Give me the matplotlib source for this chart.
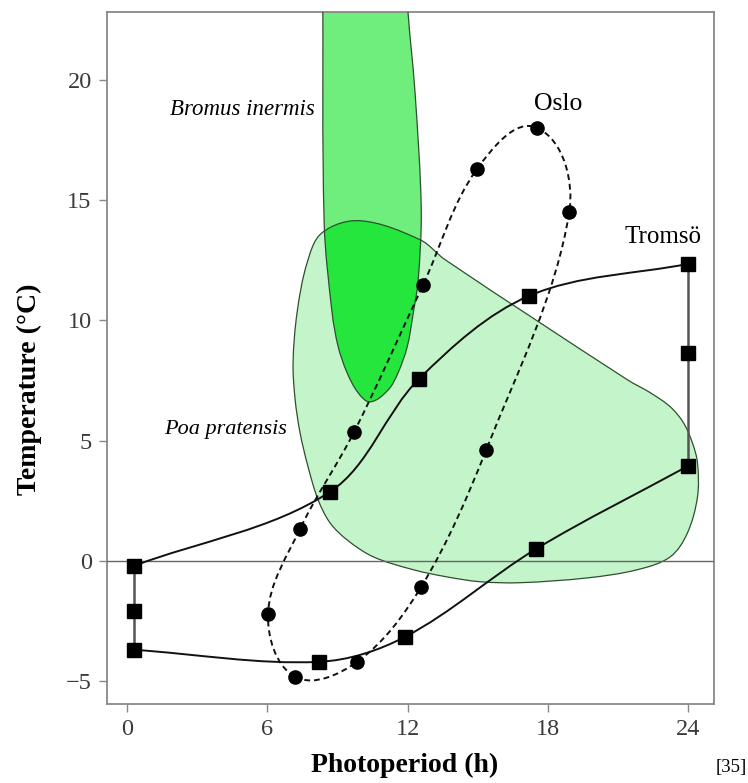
import numpy as np
import matplotlib
matplotlib.use('Agg')
import matplotlib.pyplot as plt
from matplotlib.path import Path
from matplotlib.patches import PathPatch

plt.rcParams['font.family'] = ['Liberation Serif', 'DejaVu Serif']

# Tromso monthly means (Jan..Dec): photoperiod (h), temperature (C)
tromso_x = [0.30, 8.21, 11.89, 17.50, 24.0, 24.0, 24.0, 17.20, 12.49, 8.68, 0.30, 0.30]
tromso_y = [-3.70, -4.20, -3.16, 0.50, 3.95, 8.65, 12.35, 11.02, 7.57, 2.87, -0.21, -2.08]

# Oslo (circles visible in the figure, in seasonal order)
oslo_x = [7.19, 9.84, 12.58, 15.36, 18.91, 17.54, 14.97, 12.66, 9.71, 7.40, 6.03]
oslo_y = [-4.82, -4.20, -1.08, 4.62, 14.51, 18.00, 16.30, 11.48, 5.36, 1.33, -2.20]

# outline of the Bromus inermis region (runs off the top of the plot)
bromus_x = [8.37, 8.43, 8.77, 9.03, 9.41, 9.88, 10.40, 11.17, 11.59, 11.98, 12.24,
            12.45, 12.58, 12.32, 11.97, 11.9, 8.35]
bromus_y = [24.5, 14.05, 10.31, 8.90, 7.82, 6.99, 6.61, 7.11, 7.82, 8.90, 10.31,
            11.68, 14.6, 19.4, 23.5, 28.0, 28.0]

# outline of the Poa pratensis region
poa_x = [9.97, 12.53, 13.60, 21.39, 22.37, 23.23, 23.79, 24.17, 24.39, 24.39, 23.96,
         23.23, 21.82, 19.68, 16.81, 15.10, 13.69, 12.24, 10.52, 9.41, 8.68, 8.17,
         7.74, 7.40, 7.19, 7.10, 7.27, 7.70, 8.34]
poa_y = [14.14, 13.35, 12.52, 7.53, 6.99, 6.40, 5.74, 4.91, 4.07, 2.66, 1.16,
         0.17, -0.37, -0.71, -0.91, -0.87, -0.67, -0.37, 0.17, 0.87, 1.58, 2.54,
         3.91, 5.32, 6.69, 8.23, 10.31, 12.39, 13.64]


def smooth_path(xs, ys, closed=False):
    # smooth curve through the points: cubic Bezier segments with
    # tangents along the neighbour chords, handles a third of each segment
    p = np.column_stack([xs, ys]).astype(float)
    n = len(p)
    tang = np.zeros_like(p)
    for i in range(n):
        if closed:
            d = p[(i + 1) % n] - p[i - 1]
        elif i == 0:
            d = p[1] - p[0]
        elif i == n - 1:
            d = p[-1] - p[-2]
        else:
            d = p[i + 1] - p[i - 1]
        tang[i] = d / np.hypot(*d)
    nseg = n if closed else n - 1
    verts = [p[0]]
    codes = [Path.MOVETO]
    for i in range(nseg):
        a, b = p[i], p[(i + 1) % n]
        L = np.hypot(*(b - a)) / 3.0
        verts += [a + tang[i] * L, b - tang[(i + 1) % n] * L, b]
        codes += [Path.CURVE4] * 3
    if closed:
        verts.append(p[0])
        codes.append(Path.CLOSEPOLY)
    return Path(verts, codes)


fig = plt.figure(figsize=(7.48, 7.83), dpi=100)
ax = fig.add_axes([0.143, 0.101, 0.812, 0.884])

edge = '#2f4f2f'
poa_path = smooth_path(poa_x, poa_y, closed=True)
bromus_path = smooth_path(bromus_x, bromus_y, closed=True)

poa_fill = PathPatch(poa_path, facecolor='#c4f5ca', edgecolor='none', zorder=1)
ax.add_patch(poa_fill)
ax.add_patch(PathPatch(bromus_path, facecolor='#6fee7e', edgecolor='none', zorder=1.5))
overlap = PathPatch(bromus_path, facecolor='#24e63d', edgecolor='none', zorder=2)
ax.add_patch(overlap)
overlap.set_clip_path(poa_fill)
ax.add_patch(PathPatch(poa_path, facecolor='none', edgecolor=edge, lw=0.9, zorder=3))
ax.add_patch(PathPatch(bromus_path, facecolor='none', edgecolor=edge, lw=0.9, zorder=3))

ax.axhline(0, color='#666666', lw=1.0, zorder=3)

# Oslo: closed dashed loop
ax.add_patch(PathPatch(smooth_path(oslo_x, oslo_y, closed=True), facecolor='none',
                       edgecolor='#111111', lw=1.4, ls=(0, (3, 2)), zorder=4))
ax.plot(oslo_x, oslo_y, 'o', color='black', ms=9.5, zorder=6)

# Tromso: curved parts plus vertical runs at constant photoperiod
rise = [0, 1, 2, 3, 4]
fall = [6, 7, 8, 9, 10]
for idx in (rise, fall):
    ax.add_patch(PathPatch(smooth_path([tromso_x[i] for i in idx], [tromso_y[i] for i in idx]),
                           facecolor='none', edgecolor='#111111', lw=1.4, zorder=5))
for idx in ([4, 5, 6], [10, 11, 0]):
    ax.plot([tromso_x[i] for i in idx], [tromso_y[i] for i in idx], color='#555555', lw=1.8, zorder=5)
ax.plot(tromso_x, tromso_y, 's', color='black', ms=10, zorder=6)

ax.text(8.04, 18.75, 'Bromus inermis', style='italic', fontsize=16.5, ha='right', va='center', zorder=7)
ax.text(6.84, 5.45, 'Poa pratensis', style='italic', fontsize=16, ha='right', va='center', zorder=7)
ax.text(18.44, 19.0, 'Oslo', fontsize=18.5, ha='center', va='center', zorder=7)
ax.text(22.93, 13.47, 'Tromsö', fontsize=18, ha='center', va='center', zorder=7)

ax.set_xlim(-0.856, 25.11)
ax.set_ylim(-5.95, 22.83)
ax.set_xticks([0, 6, 12, 18, 24])
ax.set_yticks([-5, 0, 5, 10, 15, 20])
ax.set_yticklabels(['\u22125', '0', '5', '10', '15', '20'])
ax.tick_params(direction='out', length=6, width=1.0, color='#888888', labelcolor='#3a3a3a',
               labelsize=17.5, pad=5)
for s in ax.spines.values():
    s.set_color('#888888')
    s.set_linewidth(1.3)

ax.set_xlabel('Photoperiod (h)', fontsize=20, fontweight='bold')
ax.set_ylabel('Temperature (°C)', fontsize=20, fontweight='bold')
ax.xaxis.set_label_coords(0.49, -0.07)
ax.yaxis.set_label_coords(-0.107, 0.455)
fig.text(0.977, 0.02, '[35]', fontsize=13.5, ha='center', va='center')

fig.savefig('out.png', dpi=100)
